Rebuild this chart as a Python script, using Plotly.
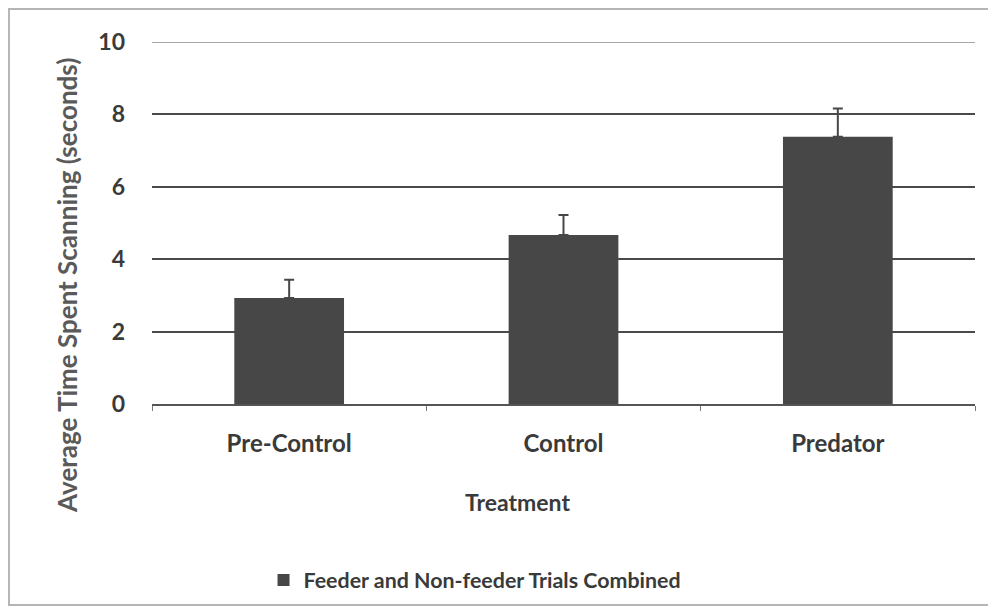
import plotly.graph_objects as go

categories = ["Pre-Control", "Control", "Predator"]
means = [2.93, 4.67, 7.38]
errors = [0.50, 0.55, 0.78]
y_ticks = [0, 2, 4, 6, 8, 10]
series_name = "Feeder and Non-feeder Trials Combined"
x_title = "Treatment"
y_title = "Average Time Spent Scanning (seconds)"

FONT = "Lato"
TXT = "#3a3a3a"

fig = go.Figure()
fig.add_trace(go.Bar(
    x=categories, y=means, name=series_name,
    marker=dict(color="#474747", line=dict(width=0)),
    width=0.4,
    error_y=dict(type="data", array=errors, arrayminus=[0]*len(errors),
                 symmetric=False, color="#474747", thickness=2, width=5),
    showlegend=True,
))

fig.update_layout(
    width=988, height=607,
    paper_bgcolor="white", plot_bgcolor="white",
    margin=dict(l=144, r=21, t=34, b=211, autoexpand=False),
    font=dict(family=FONT, color=TXT, size=18),
    bargap=0.6,
    xaxis=dict(
        showgrid=False, showline=True, linecolor="#555", linewidth=2,
        ticks="outside", tickson="boundaries", ticklen=5, tickcolor="#777",
        tickfont=dict(size=24, family=FONT, color=TXT, weight="bold"),
        ticklabelstandoff=17,
    ),
    yaxis=dict(
        range=[0, 10], tickvals=y_ticks, ticktext=[str(v) for v in y_ticks],
        showgrid=True, gridcolor="#4a4a4a", gridwidth=2,
        zeroline=False, showline=False, ticks="",
        tickfont=dict(size=23, family=FONT, color=TXT, weight="bold"),
        ticklabelstandoff=26,
    ),
    legend=dict(orientation="h", x=0.3925, xanchor="center", y=-0.43, yanchor="top",
                font=dict(size=21.4, family=FONT, color=TXT, weight="bold"), itemwidth=30),
    annotations=[
        dict(text="<b>" + x_title + "</b>", xref="paper", yref="paper",
             x=0.4447, y=-0.2707, xanchor="center", yanchor="middle", showarrow=False,
             font=dict(size=23, family=FONT, color=TXT)),
        dict(text="<b>" + y_title + "</b>", xref="paper", yref="paper",
             x=-0.1033, y=0.329, xanchor="center", yanchor="middle", showarrow=False,
             textangle=-90, font=dict(size=26, family=FONT, color="#5a5a5a")),
    ],
    shapes=[
        dict(type="rect", xref="paper", yref="paper",
             x0=-0.1738, x1=1.018, y0=-0.555, y1=1.091,
             line=dict(color="#b5b5b5", width=2), fillcolor="rgba(0,0,0,0)", layer="below"),
        dict(type="line", xref="paper", yref="y", x0=0, x1=1, y0=10, y1=10,
             line=dict(color="#a8a8a8", width=2), layer="below"),
    ],
)

fig.write_html("out.html")
